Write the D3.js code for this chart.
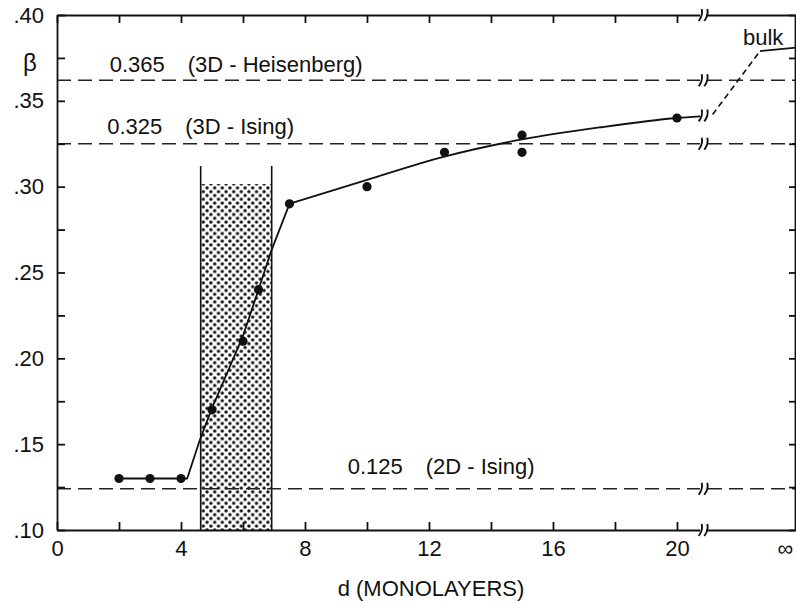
<!DOCTYPE html>
<html>
<head>
<meta charset="utf-8">
<script src="https://cdn.jsdelivr.net/npm/d3@7"></script>
<style>
    body { margin: 0; background: #fff; }
    svg { display: block; }
    text { font-family: "Liberation Sans", Arial, Helvetica, sans-serif; fill: #111; }
    .axis text { font-size: 22px; }
    .axis path, .axis line { stroke: #111; stroke-width: 1.8; }
</style>
</head>
<body>
<svg id="chart"></svg>
<script>
// measured points (d in monolayers, beta)
const pointD = [2, 3, 4, 5, 6, 6.5, 7.5, 10, 12.5, 15, 15, 20];
const pointBeta = [0.13, 0.13, 0.13, 0.17, 0.21, 0.24, 0.29, 0.30, 0.32, 0.33, 0.32, 0.34];

// drawn guide curve: straight rise, then a smooth bend up to the break
const riseD = [2, 4.2, 4.6, 5, 6, 6.5, 6.9, 7.5];
const riseBeta = [0.13, 0.13, 0.152, 0.171, 0.213, 0.24, 0.262, 0.29];
const bendD = [7.5, 10, 12.5, 15, 17.5, 20, 20.75];
const bendBeta = [0.29, 0.304, 0.3175, 0.3275, 0.3345, 0.340, 0.341];

// past the axis break: dashed rise to the bulk value, then flat
const bulkD = [21.15, 22.68];
const bulkBeta = [0.342, 0.379];
const bulkFlatD = [22.68, 23.84];
const bulkFlatBeta = [0.379, 0.381];

// reference exponents
const refLines = [0.362, 0.325, 0.124];
const refValues = ["0.365", "0.325", "0.125"];
const refNames = ["(3D - Heisenberg)", "(3D - Ising)", "(2D - Ising)"];
const refLabelD = [1.7, 1.62, 9.38];
const refLabelBeta = [0.371, 0.335, 0.1372];

// shaded band
const bandD = [4.635, 6.926];
const bandBeta = [0.10, 0.3015];
const bandLineTop = 0.312;

const xTicks = [0, 2, 4, 6, 8, 10, 12, 14, 16, 18, 20];
const yTicks = [0.10, 0.125, 0.15, 0.175, 0.20, 0.225, 0.25, 0.275, 0.30, 0.325, 0.35, 0.375, 0.40];
const breakD = 20.84;
const infD = 23.5;

const margin = {top: 15, right: 0, bottom: 72, left: 57};
const width = 739, height = 515;

const svg = d3.select("#chart")
    .attr("width", 796)
    .attr("height", 602);

const g = svg.append("g").attr("transform", `translate(${margin.left}, ${margin.top})`);

const x = d3.scaleLinear().domain([0, 23.84]).range([0, width]);
const y = d3.scaleLinear().domain([0.10, 0.40]).range([height, 0]);

// dotted fill for the band
const pat = svg.append("defs").append("pattern")
    .attr("id", "dots")
    .attr("patternUnits", "userSpaceOnUse")
    .attr("width", 7.6).attr("height", 7.6);
pat.append("rect").attr("width", 7.6).attr("height", 7.6).attr("fill", "#fff");
pat.append("circle").attr("cx", 1.9).attr("cy", 1.9).attr("r", 1.7).attr("fill", "#111");
pat.append("circle").attr("cx", 5.7).attr("cy", 5.7).attr("r", 1.7).attr("fill", "#111");

g.append("rect")
    .attr("x", x(bandD[0]))
    .attr("y", y(bandBeta[1]))
    .attr("width", x(bandD[1]) - x(bandD[0]))
    .attr("height", y(bandBeta[0]) - y(bandBeta[1]))
    .attr("fill", "url(#dots)");

g.selectAll(".bandEdge")
    .data(bandD)
    .join("line")
    .attr("class", "bandEdge")
    .attr("x1", d => x(d)).attr("x2", d => x(d))
    .attr("y1", y(bandLineTop)).attr("y2", y(0.10))
    .attr("stroke", "#111").attr("stroke-width", 1.6);

// reference dashed lines
g.selectAll(".ref")
    .data(refLines)
    .join("line")
    .attr("class", "ref")
    .attr("x1", 0).attr("x2", width)
    .attr("y1", d => y(d)).attr("y2", d => y(d))
    .attr("stroke", "#222").attr("stroke-width", 1.4)
    .attr("stroke-dasharray", "14,7");

refLines.forEach((v, i) => {
    g.append("text")
        .attr("x", x(refLabelD[i]))
        .attr("y", y(refLabelBeta[i]))
        .attr("dy", "0.35em")
        .style("font-size", "22px")
        .text(refValues[i]);
    g.append("text")
        .attr("x", x(refLabelD[i]) + 78)
        .attr("y", y(refLabelBeta[i]))
        .attr("dy", "0.35em")
        .style("font-size", "22px")
        .text(refNames[i]);
});

// axes
const fmtY = d => Math.round(d * 1000) % 50 === 0 ? d3.format(".2f")(d).replace(/^0/, "") : "";

const xAxis = g.append("g").attr("class", "axis")
    .attr("transform", `translate(0, ${height})`)
    .call(d3.axisBottom(x).tickValues(xTicks).tickSizeInner(-8).tickSizeOuter(0).tickPadding(10)
        .tickFormat(d => d % 4 === 0 ? d : ""));
xAxis.append("text")
    .attr("x", x(infD)).attr("y", 10).attr("dy", "0.71em")
    .attr("text-anchor", "middle")
    .style("font-size", "22px")
    .text("∞");

g.append("g").attr("class", "axis")
    .call(d3.axisTop(x).tickValues(xTicks).tickSizeInner(-8).tickSizeOuter(0).tickFormat(""));

g.append("g").attr("class", "axis")
    .call(d3.axisLeft(y).tickValues(yTicks).tickSizeInner(-8).tickSizeOuter(0).tickPadding(13).tickFormat(fmtY));

g.append("g").attr("class", "axis")
    .attr("transform", `translate(${width - 1}, 0)`)
    .call(d3.axisRight(y).tickValues(yTicks).tickSizeInner(-6).tickSizeOuter(0).tickFormat(""));

// fitted curve
const line = d3.line().x(d => x(d[0])).y(d => y(d[1]));

g.append("path")
    .datum(d3.zip(riseD, riseBeta))
    .attr("fill", "none").attr("stroke", "#111").attr("stroke-width", 1.8)
    .attr("stroke-linejoin", "round")
    .attr("d", line.curve(d3.curveLinear));

g.append("path")
    .datum(d3.zip(bendD, bendBeta))
    .attr("fill", "none").attr("stroke", "#111").attr("stroke-width", 1.8)
    .attr("d", line.curve(d3.curveMonotoneX));

g.append("path")
    .datum(d3.zip(bulkD, bulkBeta))
    .attr("fill", "none").attr("stroke", "#111").attr("stroke-width", 1.6)
    .attr("stroke-dasharray", "6,4")
    .attr("d", line.curve(d3.curveLinear));

g.append("path")
    .datum(d3.zip(bulkFlatD, bulkFlatBeta))
    .attr("fill", "none").attr("stroke", "#111").attr("stroke-width", 1.8)
    .attr("d", line.curve(d3.curveLinear));

g.append("text")
    .attr("x", x(22.13)).attr("y", y(0.3825))
    .style("font-size", "22px")
    .text("bulk");

// break marks on each line crossing the gap
const breakBeta = [0.40, refLines[0], 0.3415, refLines[1], refLines[2], 0.10];
const bx = x(breakD);
breakBeta.forEach(b => {
    const by = y(b);
    g.append("rect")
        .attr("x", bx - 3).attr("y", by - 4)
        .attr("width", 6).attr("height", 8)
        .attr("fill", "#fff");
    [-2.8, 2.8].forEach(off => {
        g.append("path")
            .attr("d", `M${bx + off - 1.5},${by + 6} Q${bx + off + 3},${by} ${bx + off + 1.5},${by - 6}`)
            .attr("fill", "none").attr("stroke", "#111").attr("stroke-width", 1.9);
    });
});

// points
g.selectAll(".pt")
    .data(d3.zip(pointD, pointBeta))
    .join("circle")
    .attr("class", "pt")
    .attr("cx", d => x(d[0]))
    .attr("cy", d => y(d[1]))
    .attr("r", 4.6)
    .attr("fill", "#111");

// axis titles
svg.append("text")
    .attr("x", 431).attr("y", 588)
    .attr("dy", "0.35em")
    .attr("text-anchor", "middle")
    .style("font-size", "22px")
    .text("d (MONOLAYERS)");

svg.append("text")
    .attr("x", 30).attr("y", 63)
    .attr("dy", "0.35em")
    .attr("text-anchor", "middle")
    .style("font-size", "24px")
    .text("β");
</script>
</body>
</html>
